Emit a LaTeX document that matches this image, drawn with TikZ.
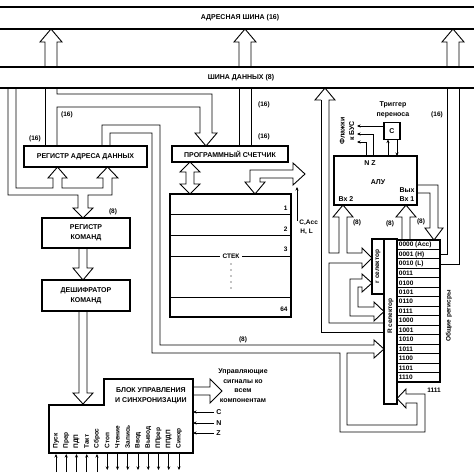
\documentclass[tikz,border=0pt]{standalone}
\usepackage{fontspec}
\setmainfont{Liberation Sans}
\usetikzlibrary{arrows.meta}

\tikzset{
  txt/.style={font=\fontsize{7}{9.6}\selectfont\bfseries, inner sep=0pt, align=center},
  sml/.style={font=\fontsize{6.5}{7.5}\selectfont\bfseries, inner sep=0pt},
  box/.style={draw, line width=1.1pt, inner sep=0pt, txt},
  busline/.style={line width=1.6pt},
  sig/.style={line width=0.7pt, -{Stealth[length=3.5pt,width=3pt]}},
}

\begin{document}
\begin{tikzpicture}[x=1pt, y=-1pt, line width=0.9pt]
  \useasboundingbox (0,0) rectangle (474,475);
  % шины
  \draw[busline] (0,7) -- (474,7) (0,29) -- (474,29);
  \node[txt] (adrbus) at (240,18) {АДРЕСНАЯ ШИНА (16)};
  \draw[busline] (0,67) -- (474,67) (0,88) -- (474,88);
  \node[txt] (databus) at (241,78) {ШИНА ДАННЫХ (8)};
  % стрелки на адресную шину
  \foreach \x in {51,245,453}
    \draw (\x-6,67) -- (\x-6,42) -- (\x-11,42) -- (\x,29) -- (\x+11,42) -- (\x+6,42) -- (\x+6,67);

  % блоки
  \node[box, minimum width=123pt, minimum height=21pt] (rad) at (85.5,156.5) {РЕГИСТР АДРЕСА ДАННЫХ};
  \node[box, minimum width=116pt, minimum height=16pt] (pc) at (230,154) {ПРОГРАММНЫЙ СЧЕТЧИК};
  \node[box, minimum width=88pt, minimum height=30pt] (rk) at (86,233) {РЕГИСТР\\КОМАНД};
  \node[box, minimum width=88pt, minimum height=31pt] (dc) at (86,295.5) {ДЕШИФРАТОР\\КОМАНД};

  % левая шина к РАД и РК
  \draw (8,88) -- (8,195) -- (78,195) -- (78,208) -- (73,208) -- (83,218) -- (93,208) -- (88,208)
    -- (88,195) -- (112,195) -- (112,178) -- (118,178) -- (107.5,167) -- (97,178) -- (103,178)
    -- (103,188) -- (62,188) -- (62,178) -- (67,178) -- (57.5,167) -- (48,178) -- (53,178)
    -- (53,188) -- (16,188) -- (16,88);
  \node[sml] (l16a) at (35,139) {(16)};
  \node[sml] (l8a) at (113,212) {(8)};
  % шина данных к РАД и счетчику
  \draw (45,88) -- (45,146);
  \draw (57,88) -- (57,94) -- (212,94) -- (212,133) -- (217,133) -- (206,146) -- (195,133)
    -- (200,133) -- (200,107) -- (57,107) -- (57,146);
  \node[sml] (l16b) at (67,115) {(16)};
  \draw (239,88) -- (239,146);
  \draw (251,88) -- (251,146);
  \node[sml] (l16c) at (264,105) {(16)};
  \node[sml] (l16d) at (264,137) {(16)};

  % РК -> дешифратор -> БУС
  \draw (79,248) -- (79,268) -- (73,268) -- (83,280) -- (93,268) -- (87,268) -- (87,248);
  \draw (79,311) -- (79,393) -- (73,393) -- (83,404) -- (93,393) -- (87,393) -- (87,311);

  % стек
  \node[draw, line width=1.1pt, minimum width=121pt, minimum height=123pt] (stack) at (230.5,255.5) {};
  \draw (170,214) -- (291,214) (170,235) -- (291,235) (170,256) -- (291,256) (170,297) -- (291,297);
  \node[sml, fill=white, inner xsep=3pt, inner ysep=1pt] (stk) at (231,256) {СТЕК};
  \foreach \n/\y in {1/208,2/229,3/249,64/309}
    \node[sml, anchor=east] at (288,\y) {\n};
  \foreach \y in {264,270,...,292}
    \fill (231,\y) circle (0.7);
  % счетчик <-> стек
  \draw (186,172) -- (180,172) -- (190,162) -- (200,172) -- (194,172) -- (194,184) -- (200,184)
    -- (190,194) -- (180,184) -- (186,184) -- cycle;
  \draw (250,182) -- (245,182) -- (255,194) -- (265,182) -- (260,182) -- (260,178) -- (293,178)
    -- (293,185) -- (305,174) -- (293,163) -- (293,170) -- (250,170) -- cycle;
  \node[sml, anchor=west] (cacc) at (299,223) {C,Acc};
  \node[sml, anchor=west] (hl) at (300,232) {H, L};
  \draw[sig] (297,221) -- (297,187);

  % длинная шина от РАД к R селектору
  \draw (102,146) -- (102,125) -- (160,125) -- (160,345) -- (374,345) -- (374,340) -- (384,349)
    -- (374,358) -- (374,353) -- (347,353) -- (347,425) -- (417,425) -- (417,403) -- (406,403)
    -- (406,408) -- (397,398.5) -- (406,389) -- (406,394) -- (425,394) -- (425,432) -- (340,432)
    -- (340,353) -- (152,353) -- (152,133) -- (110,133) -- (110,146);
  \node[sml] (l8b) at (243,340) {(8)};

  % АЛУ и триггер переноса
  \node[draw, line width=1.1pt, minimum width=83pt, minimum height=49pt] (alu) at (375.5,180.5) {};
  \node[txt] at (370,163) {N Z};
  \node[txt] at (378,182) {АЛУ};
  \node[txt] at (407,190) {Вых};
  \node[txt] at (346,199) {Вх 2};
  \node[txt] at (407,199) {Вх 1};
  \node[box, minimum width=16pt, minimum height=17pt] (carry) at (392,131) {C};
  \node[txt] (trg) at (393,110) {Триггер\\переноса};
  \draw[sig] (388,156) -- (388,139.5);
  \draw[sig] (397,139.5) -- (397,156);
  \draw[sig] (384,126) -- (357,126);
  \draw[sig] (373,156) -- (373,134) -- (357,134);
  \draw[sig] (366,156) -- (366,142) -- (357,142);
  \node[txt, rotate=90] (flags) at (347,131) {Флажки\\к БУС};
  \node[sml] (l16e) at (437,115) {(16)};

  % шина данных -> r селектор, Вх 2, R селектор
  \draw (321,100) -- (315,100) -- (325,88) -- (335,100) -- (329,100) -- (329,253) -- (339,253)
    -- (339,217) -- (333,217) -- (343,205) -- (353,217) -- (347,217) -- (347,253) -- (362,253)
    -- (362,248) -- (372,258) -- (362,268) -- (362,263) -- (329,263) -- (329,323) -- (384,323);
  \draw (321,100) -- (321,332) -- (384,332);
  \draw (362,279) -- (350,279) -- (350,316) -- (374,316) -- (374,321) -- (384,311.5) -- (374,302)
    -- (374,307) -- (358,307) -- (358,287) -- (362,287) -- (362,292) -- (372,283) -- (362,274) -- cycle;
  \node[sml] (l8c) at (357,223) {(8)};
  % Вх 1 и выход АЛУ
  \draw (402,240) -- (402,217) -- (396,217) -- (406,205) -- (416,217) -- (410,217) -- (410,240);
  \node[sml] (l8d) at (390,224) {(8)};
  \draw (417,185) -- (438,185) -- (438,228) -- (443,228) -- (434,240) -- (425,228) -- (430,228)
    -- (430,193) -- (417,193);
  \node[sml] (l8e) at (421,222) {(8)};

  % селекторы и регистры
  \node[draw, line width=1.1pt, minimum width=12pt, minimum height=55pt] (rsel) at (378,266.5) {};
  \node[sml, rotate=90] at (rsel) {r селектор};
  \node[draw, line width=1.1pt, minimum width=13pt, minimum height=165pt] (Rsel) at (390.5,321.5) {};
  \node[sml, rotate=90] at (390.5,316) {R селектор};
  \foreach \rn/\rw in {0/0000 (Acc),1/0001 (H),2/0010 (L),3/0011,4/0100,5/0101,6/0110,7/0111,
                       8/1000,9/1001,10/1010,11/1011,12/1100,13/1101,14/1110} {
    \draw[line width=1.1pt] (397,240+\rn*9.467) rectangle (440,249.467+\rn*9.467);
    \node[sml, anchor=west] (r\rn) at (398.5,244.9+\rn*9.467) {\rw};
  }
  \node[sml] (r15) at (434,390) {1111};
  \node[sml, rotate=90] (regs) at (449,316) {Общие регисры};
  % H и L на адресную шину
  \draw (447,88) -- (447,254) -- (440,254);
  \draw (459,88) -- (459,264) -- (440,264);

  % блок управления и синхронизации
  \draw[line width=1.1pt] (49,405) -- (104,405) -- (104,379) -- (193,379) -- (193,453) -- (49,453) -- cycle;
  \coordinate (ctlR) at (193,379);
  \node[txt] (ctl) at (151,396) {БЛОК УПРАВЛЕНИЯ\\И СИНХРОНИЗАЦИИ};
  \draw (193,387) -- (210,387) -- (210,379) -- (222,391) -- (210,403) -- (210,395) -- (193,395);
  \node[txt] (ctlout) at (243,385.5) {Управляющие\\сигналы ко\\всем\\компонентам};
  \foreach \s/\y in {C/412,N/423,Z/433} {
    \node[txt, anchor=west] (in\s) at (216,\y) {\s};
    \draw[sig] ([xshift=-2pt]in\s.west) -- (in\s.west -| ctlR);
  }
  \foreach \lab [count=\i from 0] in {Пуск,Прер,ПДП,Такт,Сброс} {
    \node[sml, rotate=90, anchor=west] (s\i) at (56+\i*10.25,449) {\lab};
    \draw[sig] (56+\i*10.25,472) -- (56+\i*10.25,454);
  }
  \foreach \lab [count=\i from 5] in {Стоп,Чтение,Запись,Ввод,Вывод,ППрер,ППДП,Синхр} {
    \node[sml, rotate=90, anchor=west] (s\i) at (56+\i*10.25,449) {\lab};
    \draw[sig] (56+\i*10.25,454) -- (56+\i*10.25,470);
  }
\end{tikzpicture}
\end{document}
